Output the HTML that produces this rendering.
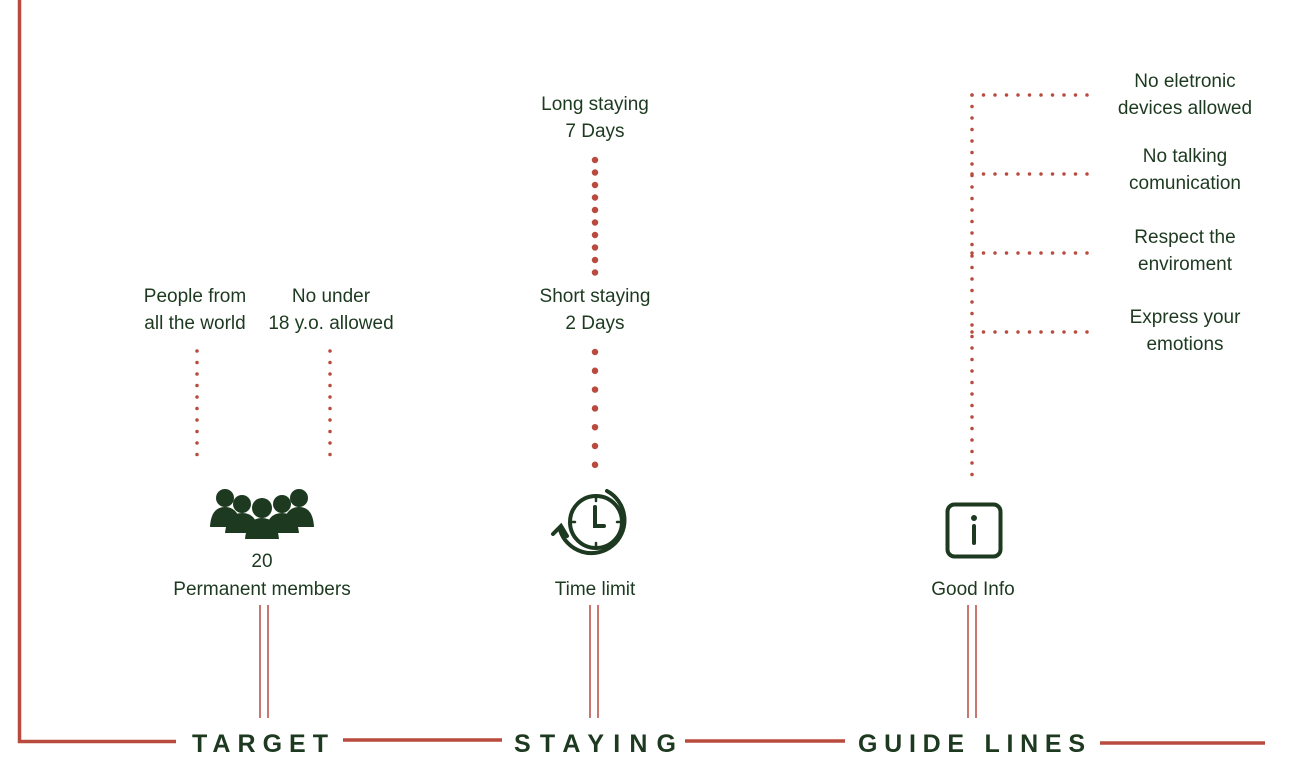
<!DOCTYPE html>
<html><head><style>
html,body{margin:0;padding:0;background:#fff;}
svg{display:block;}
text{font-family:"Liberation Sans",sans-serif;fill:#1d3a20;}
</style></head><body>
<svg width="1302" height="775" viewBox="0 0 1302 775" xmlns="http://www.w3.org/2000/svg">
<g stroke="#b94a3e" fill="none">
  <path d="M19.5 0 V741.5 H176" stroke-width="3.5"/>
  <line x1="343" y1="740" x2="502" y2="740" stroke-width="3.5"/>
  <line x1="685" y1="741" x2="845" y2="741" stroke-width="3.5"/>
  <line x1="1100" y1="743" x2="1265" y2="743" stroke-width="3.5"/>
  <g stroke-width="1.5">
    <line x1="260" y1="605" x2="260" y2="718"/><line x1="268" y1="605" x2="268" y2="718"/>
    <line x1="590" y1="605" x2="590" y2="718"/><line x1="598" y1="605" x2="598" y2="718"/>
    <line x1="968" y1="605" x2="968" y2="718"/><line x1="976" y1="605" x2="976" y2="718"/>
  </g>
  <g stroke-width="3.5" stroke-linecap="round" stroke-dasharray="0 11.5">
    <line x1="197" y1="351" x2="197" y2="466"/>
    <line x1="330" y1="351" x2="330" y2="466"/>
    <line x1="972" y1="95" x2="972" y2="482"/>
    <line x1="972" y1="95" x2="1098" y2="95"/>
    <line x1="972" y1="174" x2="1098" y2="174"/>
    <line x1="972" y1="253" x2="1098" y2="253"/>
    <line x1="972" y1="332" x2="1098" y2="332"/>
  </g>
  <line x1="595" y1="160" x2="595" y2="273" stroke-width="6.5" stroke-linecap="round" stroke-dasharray="0 12.5"/>
  <line x1="595" y1="352" x2="595" y2="465" stroke-width="6.5" stroke-linecap="round" stroke-dasharray="0 18.8"/>
</g>
<g font-size="19" text-anchor="middle">
  <text x="195" y="302">People from</text><text x="195" y="329">all the world</text>
  <text x="331" y="302">No under</text><text x="331" y="329">18 y.o. allowed</text>
  <text x="595" y="110">Long staying</text><text x="595" y="137">7 Days</text>
  <text x="595" y="302">Short staying</text><text x="595" y="329">2 Days</text>
  <text x="1185" y="87">No eletronic</text><text x="1185" y="114">devices allowed</text>
  <text x="1185" y="162">No talking</text><text x="1185" y="189">comunication</text>
  <text x="1185" y="243">Respect the</text><text x="1185" y="270">enviroment</text>
  <text x="1185" y="323">Express your</text><text x="1185" y="350">emotions</text>
  <text x="262" y="567">20</text><text x="262" y="595">Permanent members</text>
  <text x="595" y="595">Time limit</text>
  <text x="973" y="595">Good Info</text>
</g>
<g font-size="25" font-weight="bold">
  <text x="192" y="752" textLength="136" lengthAdjust="spacing">TARGET</text>
  <text x="514" y="752" textLength="162" lengthAdjust="spacing">STAYING</text>
  <text x="858" y="752" textLength="227" lengthAdjust="spacing">GUIDE LINES</text>
</g>
<!-- people icon -->
<g fill="#1d3a20">
  <circle cx="225" cy="498" r="9"/><path d="M210 527 Q211 507 225 507 Q239 507 241 527 Z"/>
  <circle cx="299" cy="498" r="9"/><path d="M283 527 Q285 507 299 507 Q313 507 314 527 Z"/>
  <circle cx="242" cy="504" r="9"/><path d="M225 533 Q227 513 242 513 Q257 513 259 533 Z"/>
  <circle cx="282" cy="504" r="9"/><path d="M265 533 Q267 513 282 513 Q297 513 299 533 Z"/>
  <circle cx="262" cy="508" r="10"/><path d="M245 539 Q247 518 262 518 Q277 518 279 539 Z"/>
</g>
<!-- clock icon -->
<g stroke="#1d3a20" fill="none" stroke-width="4" stroke-linecap="round">
  <circle cx="596" cy="522" r="26"/>
  <path d="M595 507 V526 H604"/>
  <path d="M607 491 A33 33 0 1 1 560 530"/>
  <path d="M553 534 L561 526 L567 536"/>
  <g stroke-width="2.5">
    <line x1="596" y1="497" x2="596" y2="501"/><line x1="596" y1="543" x2="596" y2="547"/>
    <line x1="571" y1="522" x2="575" y2="522"/><line x1="617" y1="522" x2="621" y2="522"/>
  </g>
</g>
<!-- info icon -->
<rect x="947.5" y="504.5" width="53" height="52" rx="7" fill="none" stroke="#1d3a20" stroke-width="4"/>
<circle cx="974" cy="518" r="3" fill="#1d3a20"/>
<line x1="974" y1="526" x2="974" y2="543" stroke="#1d3a20" stroke-width="4" stroke-linecap="round"/>
</svg>
</body></html>
